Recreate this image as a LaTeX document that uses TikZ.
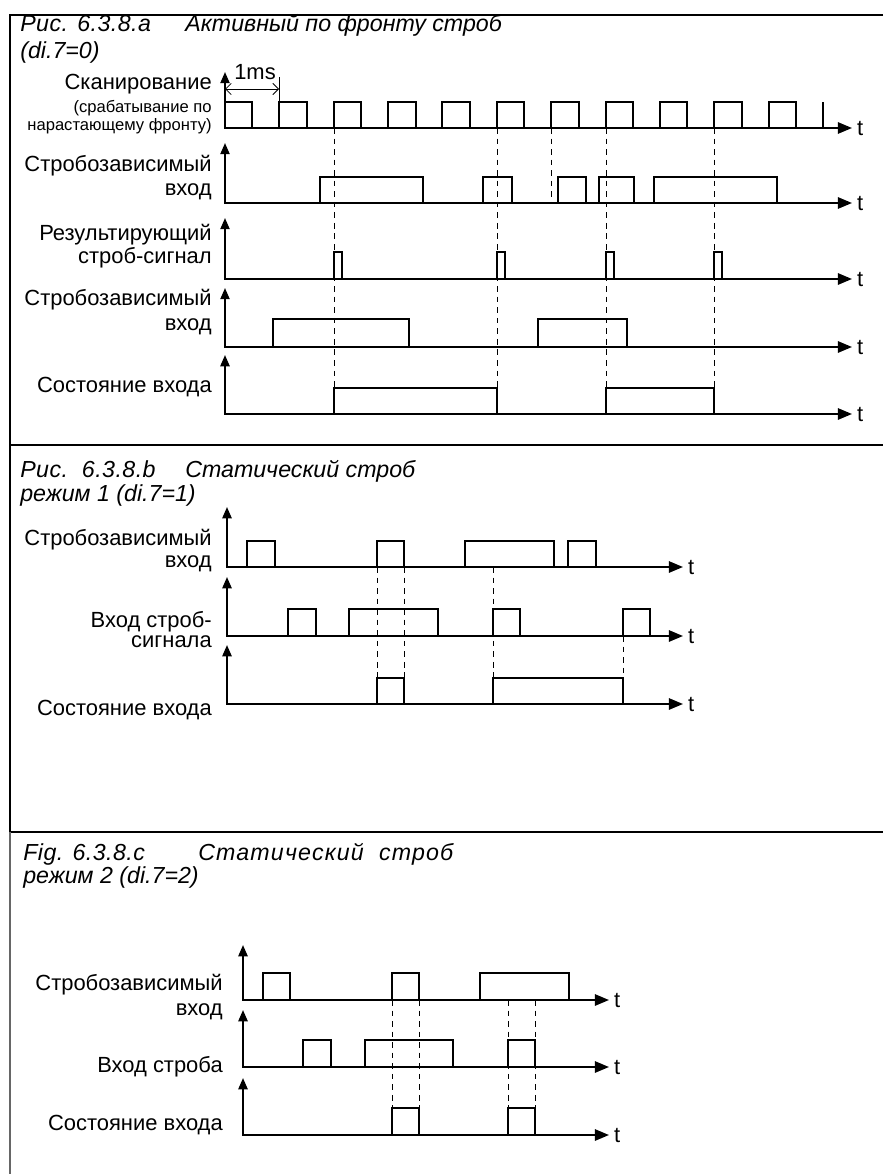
\documentclass[tikz,border=0pt]{standalone}
\usepackage{fontspec}
\setmainfont{Liberation Sans}
\usetikzlibrary{arrows.meta}

\begin{document}
\begin{tikzpicture}[
    x=0.025cm, y=-0.025cm,
    frame/.style={line width=1.4pt},
    sig/.style={line width=1.4pt},
    axes/.style={line width=1.4pt, {Triangle[length=8pt, width=6.5pt]}-{Triangle[length=10pt, width=8pt]}},
    guide/.style={line width=0.6pt, dash pattern=on 4pt off 3.5pt},
    dim/.style={line width=0.6pt},
    lbl/.style={font=\fontsize{15.6}{18}\selectfont, anchor=base east, inner sep=0pt},
    note/.style={font=\fontsize{11.8}{14}\selectfont, anchor=base east, inner sep=0pt},
    ttl/.style={font=\fontsize{16.5}{19}\selectfont\itshape, anchor=base west, inner sep=0pt},
    num/.style={ttl, font=\fontsize{16.5}{19}\selectfont\itshape\addfontfeatures{LetterSpace=2}},
    wide/.style={ttl, font=\fontsize{16.5}{19}\selectfont\itshape\addfontfeatures{LetterSpace=5}},
    tlbl/.style={font=\fontsize{15.6}{18}\selectfont, anchor=west, inner sep=3pt},
]
\useasboundingbox (0,0) rectangle (883,1174);

% === Frame ===
\draw[frame] (883,15) -- (10,15) -- (10,832);
\draw[frame] (10,445) -- (883,445);
\draw[frame] (10,832) -- (883,832);
\draw[frame, black!60] (10,832) -- (10,1174);

% === Fig. a: edge-triggered strobe ===
\node[num] (titleA) at (20,32) {Рис. 6.3.8.a};
\node[ttl] (titleAb) at (185,32) {Активный по фронту строб};
\node[ttl] (titleAc) at (20,59) {(di.7=0)};

\node[lbl] (scanLbl) at (212,90) {Сканирование};
\node[note] (scanNote) at (212,113) {(срабатывание по};
\node[note] (scanNoteb) at (212,131) {нарастающему фронту)};
\node[lbl] (inA) at (212,172) {Стробозависимый};
\node[lbl] (inAb) at (212,196) {вход};
\node[lbl] (resLbl) at (212,241) {Результирующий};
\node[lbl] (resLblb) at (212,264) {строб-сигнал};
\node[lbl] (inB) at (212,306) {Стробозависимый};
\node[lbl] (inBb) at (212,330) {вход};
\node[lbl] (stateA) at (212,392) {Состояние входа};

% axes
\draw[axes] (225,72) -- (225,128) -- (852,128) node[tlbl] (tA1) {t};
\draw[axes] (225,143) -- (225,203) -- (852,203) node[tlbl] (tA2) {t};
\draw[axes] (225,218) -- (225,279) -- (852,279) node[tlbl] (tA3) {t};
\draw[axes] (225,288) -- (225,347) -- (852,347) node[tlbl] (tA4) {t};
\draw[axes] (225,355) -- (225,414) -- (852,414) node[tlbl] (tA5) {t};

% 1 ms period
\node[font=\fontsize{15.6}{18}\selectfont, anchor=base, inner sep=0pt] (msLbl) at (255,80) {1ms};
\draw[dim, {Straight Barb[length=4pt]}-{Straight Barb[length=4pt]}] (225,89) -- (279,89);
\draw[dim] (279,77) -- (279,102);

% scan pulses
\draw[sig] (225,102) -- (252,102) -- (252,128)
    (279,128) |- (307,102) -- (307,128)
    (334,128) |- (361,102) -- (361,128)
    (388,128) |- (416,102) -- (416,128)
    (442,128) |- (470,102) -- (470,128)
    (497,128) |- (524,102) -- (524,128)
    (551,128) |- (579,102) -- (579,128)
    (606,128) |- (633,102) -- (633,128)
    (660,128) |- (687,102) -- (687,128)
    (714,128) |- (742,102) -- (742,128)
    (769,128) |- (796,102) -- (796,128)
    (823,128) -- (823,102);

% strobe-dependent input
\draw[sig] (320,203) |- (423,177) -- (423,203)
    (483,203) |- (512,177) -- (512,203)
    (558,203) |- (586,177) -- (586,203)
    (599,203) |- (634,177) -- (634,203)
    (654,203) |- (777,177) -- (777,203);

% resulting strobe
\draw[sig] (334,279) |- (342,252) -- (342,279)
    (497,279) |- (505,252) -- (505,279)
    (606,279) |- (614,252) -- (614,279)
    (714,279) |- (722,252) -- (722,279);

% second strobe-dependent input
\draw[sig] (273,347) |- (409,319) -- (409,347)
    (538,347) |- (627,319) -- (627,347);

% input state
\draw[sig] (334,414) |- (497,388) -- (497,414)
    (606,414) |- (714,388) -- (714,414);

% guides
\draw[guide] (334,128) -- (334,388);
\draw[guide] (497,128) -- (497,388);
\draw[guide] (551,128) -- (551,203);
\draw[guide] (606,128) -- (606,388);
\draw[guide] (714,128) -- (714,388);

% === Fig. b: static strobe, mode 1 ===
\node[num] (titleB) at (20,477) {Рис.~~6.3.8.b};
\node[ttl] (titleBb) at (185,477) {Статический строб};
\node[ttl] (titleBc) at (20,501) {режим 1 (di.7=1)};

\node[lbl] (inC) at (212,545) {Стробозависимый};
\node[lbl] (inCb) at (212,567) {вход};
\node[lbl] (strC) at (212,627) {Вход строб-};
\node[lbl] (strCb) at (212,647) {сигнала};
\node[lbl] (stateB) at (212,715) {Состояние входа};

\draw[axes] (227,507) -- (227,567) -- (683,567) node[tlbl] (tB1) {t};
\draw[axes] (227,577) -- (227,636) -- (683,636) node[tlbl] (tB2) {t};
\draw[axes] (227,645) -- (227,704) -- (683,704) node[tlbl] (tB3) {t};

\draw[sig] (247,567) |- (275,541) -- (275,567)
    (377,567) |- (404,541) -- (404,567)
    (465,567) |- (554,541) -- (554,567)
    (568,567) |- (596,541) -- (596,567);
\draw[sig] (288,636) |- (316,609) -- (316,636)
    (349,636) |- (438,609) -- (438,636)
    (493,636) |- (520,609) -- (520,636)
    (623,636) |- (650,609) -- (650,636);
\draw[sig] (377,704) |- (404,678) -- (404,704)
    (493,704) |- (623,678) -- (623,704);

\draw[guide] (377,567) -- (377,678);
\draw[guide] (404,567) -- (404,678);
\draw[guide] (493,567) -- (493,678);
\draw[guide] (623,636) -- (623,678);

% === Fig. c: static strobe, mode 2 ===
\node[num] (titleC) at (23,860) {Fig. 6.3.8.c};
\node[wide] (titleCb) at (198,860) {Статический~~строб};
\node[ttl] (titleCc) at (23,883) {режим 2 (di.7=2)};

\node[lbl] (inD) at (223,990) {Стробозависимый};
\node[lbl] (inDb) at (223,1015) {вход};
\node[lbl] (strD) at (223,1072) {Вход строба};
\node[lbl] (stateC) at (223,1130) {Состояние входа};

\draw[axes] (243,945) -- (243,1000) -- (609,1000) node[tlbl] (tC1) {t};
\draw[axes] (243,1010) -- (243,1067) -- (609,1067) node[tlbl] (tC2) {t};
\draw[axes] (243,1078) -- (243,1135) -- (609,1135) node[tlbl] (tC3) {t};

\draw[sig] (263,1000) |- (290,973) -- (290,1000)
    (392,1000) |- (419,973) -- (419,1000)
    (480,1000) |- (569,973) -- (569,1000);
\draw[sig] (303,1067) |- (331,1040) -- (331,1067)
    (365,1067) |- (453,1040) -- (453,1067)
    (508,1067) |- (535,1040) -- (535,1067);
\draw[sig] (392,1135) |- (419,1108) -- (419,1135)
    (508,1135) |- (535,1108) -- (535,1135);

\draw[guide] (392,1000) -- (392,1108);
\draw[guide] (419,1000) -- (419,1108);
\draw[guide] (508,1000) -- (508,1108);
\draw[guide] (535,1000) -- (535,1108);

\end{tikzpicture}
\end{document}
